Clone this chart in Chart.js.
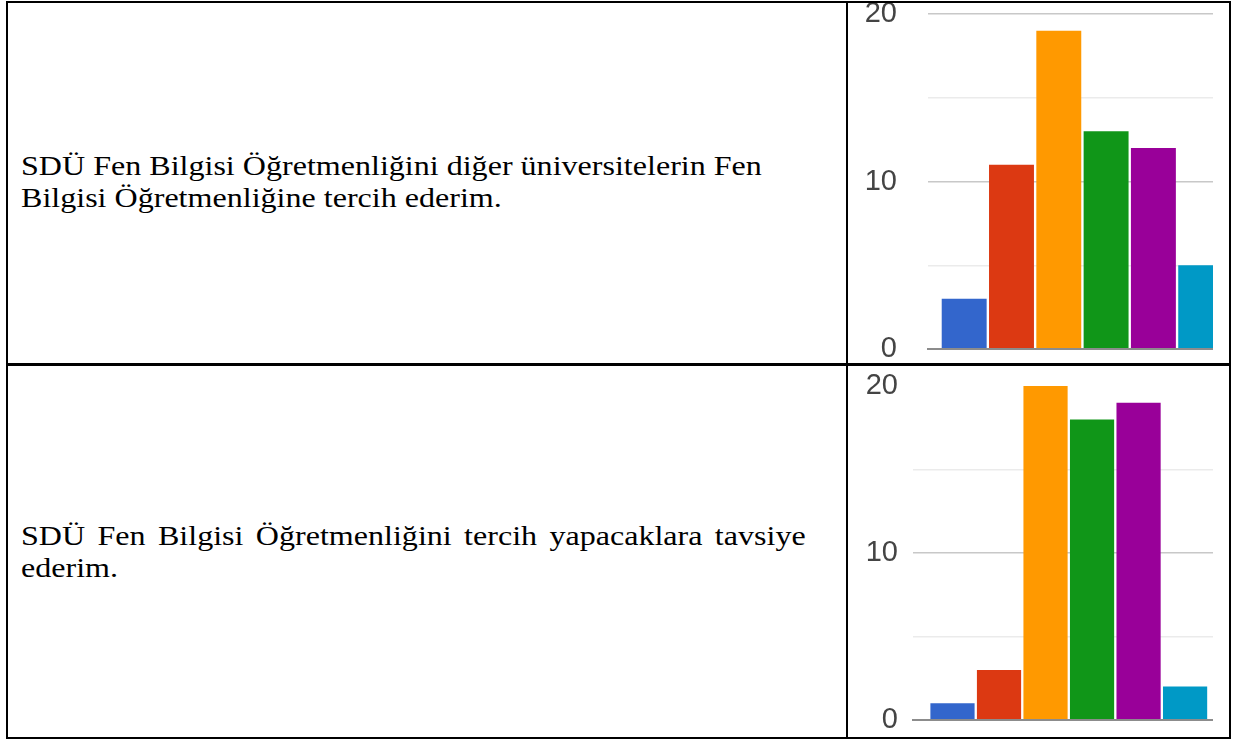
<!DOCTYPE html>
<html><head><meta charset="utf-8">
<script src="https://cdn.jsdelivr.net/npm/chart.js@4.4.1/dist/chart.umd.min.js"></script>
<style>
html,body{margin:0;padding:0;background:#fff;}
body{width:1234px;height:740px;overflow:hidden;position:relative;}
.ln{position:absolute;background:#000;}
.txt{position:absolute;left:21px;font-family:"Liberation Serif","Times New Roman",serif;font-size:28px;line-height:32px;color:#000;white-space:nowrap;transform-origin:0 0;transform:scaleX(1.145);}
.wrap{position:absolute;overflow:hidden;}
.wrap canvas{position:absolute;left:0;}
</style></head><body>
<div class="ln" style="left:6px;top:1px;width:1225px;height:2px"></div>
<div class="ln" style="left:6px;top:737px;width:1225px;height:2px"></div>
<div class="ln" style="left:6px;top:1px;width:2px;height:738px"></div>
<div class="ln" style="left:1229px;top:1px;width:2px;height:738px"></div>
<div class="ln" style="left:846px;top:1px;width:2px;height:738px"></div>
<div class="ln" style="left:6px;top:363px;width:1225px;height:3px"></div>

<div class="txt" id="t1" style="top:150px"></div>
<div class="txt" id="t2" style="top:520px"></div>

<div class="wrap" style="left:848px;top:3px;width:365px;height:360px"><canvas id="c1" width="365" height="455" style="top:-49px"></canvas></div>
<div class="wrap" style="left:848px;top:366px;width:365px;height:371px"><canvas id="c2" width="365" height="454" style="top:-40px"></canvas></div>

<script>
// ---- data ----
const rowTexts1 = ["SDÜ Fen Bilgisi Öğretmenliğini diğer üniversitelerin Fen", "Bilgisi Öğretmenliğine tercih ederim."];
const rowTexts2 = ["SDÜ Fen Bilgisi Öğretmenliğini tercih yapacaklara tavsiye", "ederim."];
const categories = [1, 2, 3, 4, 5, 6];
const values1 = [3, 11, 19, 13, 12, 5];
const values2 = [1, 3, 20, 18, 19, 2];
const barColors = ["#3366cc", "#dc3912", "#ff9900", "#109618", "#990099", "#0099c6"];
const yTicks = [0, 10, 20];

document.getElementById('t1').innerHTML = rowTexts1.join('<br>');
document.getElementById('t2').innerHTML = '<span style="word-spacing:3.8px">' + rowTexts2[0] + '</span><br>' + rowTexts2[1];

function makeChart(id, values, opts) {
  return new Chart(document.getElementById(id), {
    type: 'bar',
    data: {
      datasets: [{
        data: values.map((v, i) => ({x: categories[i], y: v})),
        backgroundColor: barColors,
        borderWidth: 0,
        barPercentage: 0.95,
        categoryPercentage: 1
      }]
    },
    options: {
      responsive: false,
      animation: false,
      devicePixelRatio: 1,
      layout: {padding: {top: 60, bottom: 60, left: 0, right: 0}},
      plugins: {legend: {display: false}, tooltip: {enabled: false}},
      scales: {
        x: {
          type: 'linear', min: opts.xmin, max: opts.xmax, offset: false,
          grid: {display: false, drawTicks: false},
          ticks: {display: false, stepSize: 1000},
          border: {display: true, color: '#8c8c8c', width: 2, z: 1}
        },
        y: {
          min: 0, max: 20,
          afterFit: s => { s.width = opts.axisW; },
          border: {display: false},
          grid: {
            drawTicks: false,
            color: c => {
              const v = c.tick.value;
              if (v === 0) return 'rgba(0,0,0,0)';
              if (opts.hideTop && v === 20) return 'rgba(0,0,0,0)';
              return v % 10 === 0 ? '#c8c8c8' : '#ebebeb';
            },
            lineWidth: 1.5
          },
          ticks: {
            stepSize: 5,
            padding: opts.tickPad,
            color: '#444',
            font: {family: '"Liberation Sans", Arial, sans-serif', size: 29, lineHeight: 1},
            callback: v => yTicks.includes(v) ? String(v) : ''
          }
        }
      }
    }
  });
}

makeChart('c1', values1, {xmin: 0.235, xmax: 6.26, axisW: 80, tickPad: 31, hideTop: false});
makeChart('c2', values2, {xmin: 0.151, xmax: 6.6, axisW: 65, tickPad: 15, hideTop: true});
</script>
</body></html>
